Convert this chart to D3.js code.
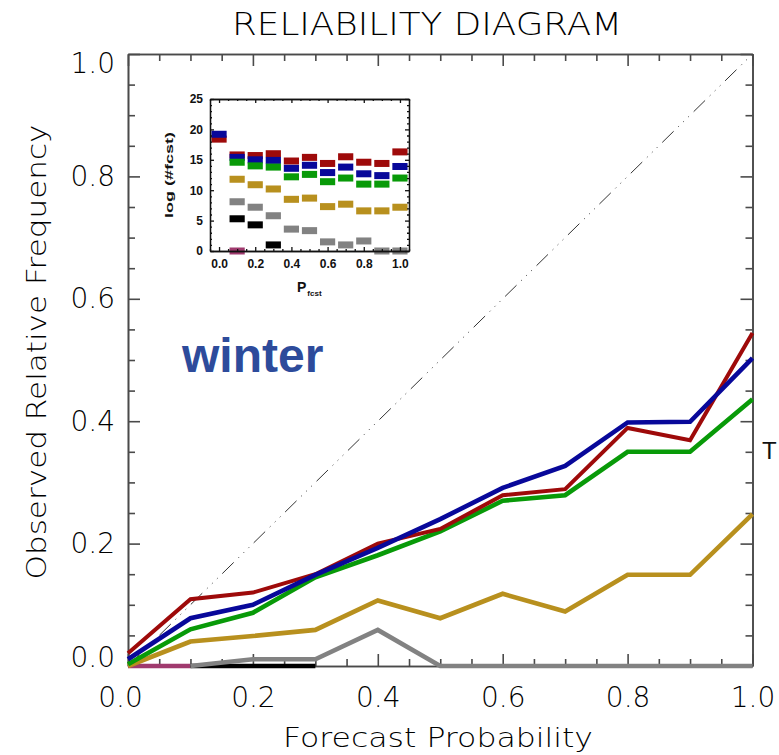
<!DOCTYPE html>
<html>
<head>
<meta charset="utf-8">
<script src="https://cdn.jsdelivr.net/npm/d3@7"></script>
<style>
  html, body { margin: 0; padding: 0; background: #fff; }
  svg { display: block; }
  .ax text, text.ax { font-family: "DejaVu Sans", sans-serif; font-weight: 300; fill: #000; }
  .inset text { font-family: "Liberation Sans", Arial, sans-serif; font-weight: bold; fill: #111; }
</style>
</head>
<body>
<script>
// Forecast probability bins
const probs = [0.0, 0.1, 0.2, 0.3, 0.4, 0.5, 0.6, 0.7, 0.8, 0.9, 1.0];

// Observed relative frequency per bin, one array per threshold (null = no forecasts)
const obsRed     = [0.021, 0.109, 0.120, 0.150, 0.200, 0.224, 0.279, 0.289, 0.389, 0.369, 0.544];
const obsBlue    = [0.011, 0.078, 0.100, 0.149, 0.193, 0.240, 0.291, 0.327, 0.398, 0.399, 0.503];
const obsGreen   = [0.003, 0.060, 0.087, 0.145, 0.181, 0.220, 0.270, 0.279, 0.350, 0.350, 0.436];
const obsGold    = [0.000, 0.040, 0.049, 0.059, 0.107, 0.078, 0.118, 0.089, 0.149, 0.149, 0.248];
const obsGray    = [null, 0.000, 0.011, 0.011, 0.059, 0.000, 0.000, 0.000, 0.000, 0.000, 0.000];
const obsBlack   = [null, 0.000, 0.000, 0.000, null, null, null, null, null, null, null];
const obsMagenta = [0.000, 0.000, null, null, null, null, null, null, null, null, null];

// log(#fcst) per bin for the inset histogram
const cntRed     = [18.4, 15.8, 15.7, 16.0, 14.8, 15.4, 14.4, 15.5, 14.6, 14.4, 16.3];
const cntBlue    = [19.2, 15.4, 15.0, 14.9, 13.6, 14.1, 12.9, 13.8, 12.7, 12.4, 13.9];
const cntGreen   = [null, 14.6, 14.0, 13.8, 12.2, 12.6, 11.4, 12.0, 11.0, 11.0, 12.0];
const cntGold    = [null, 11.8, 10.9, 10.2, 8.5, 8.7, 7.3, 7.7, 6.6, 6.6, 7.2];
const cntGray    = [null, 8.1, 7.2, 5.8, 3.6, 3.35, 1.5, 1.0, 1.65, 0.0, 0.0];
const cntBlack   = [null, 5.3, 4.3, 1.0, null, null, null, null, null, null, null];
const cntMagenta = [null, 0.0, null, null, null, null, null, null, null, null, null];

const colors = {
  red: "#9e0a0a", blue: "#08089a", green: "#089a08", gold: "#b8901e",
  gray: "#828282", black: "#000000", magenta: "#a03a6e"
};

// Drawing order: bottom first
const series = [
  { key: "magenta", obs: obsMagenta, cnt: cntMagenta },
  { key: "black",   obs: obsBlack,   cnt: cntBlack },
  { key: "gray",    obs: obsGray,    cnt: cntGray },
  { key: "gold",    obs: obsGold,    cnt: cntGold },
  { key: "green",   obs: obsGreen,   cnt: cntGreen },
  { key: "red",     obs: obsRed,     cnt: cntRed },
  { key: "blue",    obs: obsBlue,    cnt: cntBlue }
];
const insetOrder = ["gray", "black", "magenta", "gold", "red", "blue", "green"];

const majorTicks = [0, 0.2, 0.4, 0.6, 0.8, 1.0];
const minorTicks = d3.range(0, 1.0001, 0.05).map(v => +v.toFixed(2)).filter(v => !majorTicks.includes(v));

const W = 779, H = 755;
const svg = d3.select("body").append("svg").attr("width", W).attr("height", H);

const x = d3.scaleLinear().domain([0, 1]).range([128, 752.5]);
const y = d3.scaleLinear().domain([0, 1]).range([666, 54]);
const axisColor = "#4a4a4a";

// Title
svg.append("text").attr("class", "ax")
  .attr("x", 427).attr("y", 35)
  .attr("text-anchor", "middle")
  .attr("font-size", 32)
  .attr("textLength", 390).attr("lengthAdjust", "spacingAndGlyphs")
  .text("RELIABILITY DIAGRAM");

// Perfect-reliability diagonal
svg.append("line")
  .attr("x1", x(0)).attr("y1", y(0)).attr("x2", x(1)).attr("y2", y(1))
  .attr("stroke", "#333").attr("stroke-width", 1)
  .attr("stroke-dasharray", "16,6.5,1,6,1,6,1,6.5");

// Axes
function styleAxis(g) {
  g.selectAll("path,line").attr("stroke", axisColor).attr("stroke-width", 1.6);
  g.selectAll("text").attr("font-size", 28).attr("fill", "#000");
}
const gB = svg.append("g").attr("class", "ax").attr("transform", `translate(0,${y(0)})`)
  .call(d3.axisBottom(x).tickValues(majorTicks).tickSizeInner(-12).tickSizeOuter(0).tickPadding(21).tickFormat(d3.format(".1f")))
  .call(styleAxis);
svg.append("g").attr("transform", `translate(0,${y(0)})`)
  .call(d3.axisBottom(x).tickValues(minorTicks).tickSizeInner(-7).tickSizeOuter(0).tickFormat(""))
  .call(styleAxis);
svg.append("g").attr("transform", `translate(0,${y(1)})`)
  .call(d3.axisTop(x).tickValues(majorTicks).tickSizeInner(-12).tickSizeOuter(0).tickFormat(""))
  .call(styleAxis);
svg.append("g").attr("transform", `translate(0,${y(1)})`)
  .call(d3.axisTop(x).tickValues(minorTicks).tickSizeInner(-7).tickSizeOuter(0).tickFormat(""))
  .call(styleAxis);
const gL = svg.append("g").attr("class", "ax").attr("transform", `translate(${x(0)},0)`)
  .call(d3.axisLeft(y).tickValues(majorTicks).tickSizeInner(-12).tickSizeOuter(0).tickPadding(13).tickFormat(d3.format(".1f")))
  .call(styleAxis);
svg.append("g").attr("transform", `translate(${x(0)},0)`)
  .call(d3.axisLeft(y).tickValues(minorTicks).tickSizeInner(-7).tickSizeOuter(0).tickFormat(""))
  .call(styleAxis);
svg.append("g").attr("transform", `translate(${x(1)},0)`)
  .call(d3.axisRight(y).tickValues(majorTicks).tickSizeInner(-12).tickSizeOuter(0).tickFormat(""))
  .call(styleAxis);
svg.append("g").attr("transform", `translate(${x(1)},0)`)
  .call(d3.axisRight(y).tickValues(minorTicks).tickSizeInner(-7).tickSizeOuter(0).tickFormat(""))
  .call(styleAxis);

// End labels sit slightly inside the frame
gL.selectAll(".tick text").filter(d => d === 1).attr("dy", "0.65em");
gL.selectAll(".tick text").filter(d => d === 0).attr("dy", "0.0em");
gB.selectAll(".tick text").filter(d => d === 0).attr("dx", "-8");

// Axis titles
svg.append("text").attr("class", "ax")
  .attr("x", 438).attr("y", 747).attr("text-anchor", "middle")
  .attr("font-size", 27).attr("textLength", 310).attr("lengthAdjust", "spacingAndGlyphs")
  .text("Forecast Probability");
svg.append("text").attr("class", "ax")
  .attr("transform", "translate(46,352) rotate(-90)").attr("text-anchor", "middle")
  .attr("font-size", 27).attr("textLength", 455).attr("lengthAdjust", "spacingAndGlyphs")
  .text("Observed Relative Frequency");

// Reliability curves
const line = d3.line()
  .defined(d => d[1] !== null)
  .x(d => x(d[0])).y(d => y(d[1]));
series.forEach(s => {
  const pts = probs.map((p, i) => [p, s.obs[i]]);
  svg.append("path")
    .attr("d", line(pts))
    .attr("fill", "none")
    .attr("stroke", colors[s.key])
    .attr("stroke-width", s.key === "red" ? 4 : 4.6)
    .attr("stroke-linejoin", "miter");
});

// Season label
svg.append("text")
  .attr("x", 182).attr("y", 372)
  .attr("font-family", "Liberation Sans, Arial, sans-serif").attr("font-weight", "bold")
  .attr("font-size", 48).attr("fill", "#2d4b9b")
  .text("winter");

svg.append("text")
  .attr("x", 762).attr("y", 459)
  .attr("font-family", "Liberation Sans, Arial, sans-serif")
  .attr("font-size", 24).attr("fill", "#111")
  .text("T");

// Inset: number of forecasts per bin
const ix = d3.scaleLinear().domain([-0.05, 1.05]).range([210, 409]);
const iy = d3.scaleLinear().domain([0, 25]).range([251, 99]);
const inset = svg.append("g").attr("class", "inset");

const barW = ix(0.042) - ix(0);
insetOrder.forEach(k => {
  const s = series.find(t => t.key === k);
  inset.append("g").selectAll("rect")
    .data(probs.map((p, i) => [p, s.cnt[i]]).filter(d => d[1] !== null))
    .join("rect")
    .attr("x", d => ix(d[0]) - barW)
    .attr("width", 2 * barW)
    .attr("y", d => iy(d[1]) - 3.5)
    .attr("height", 7)
    .attr("fill", colors[k]);
});

function styleInset(g) {
  g.selectAll("path,line").attr("stroke", "#111").attr("stroke-width", 1.3);
  g.selectAll("text").attr("font-size", 12).attr("font-weight", "bold").attr("fill", "#111");
}
const iMajX = [0, 0.2, 0.4, 0.6, 0.8, 1.0];
const iMinX = d3.range(-0.05, 1.051, 0.05).map(v => +v.toFixed(2)).filter(v => !iMajX.includes(v));
const iMajY = [0, 5, 10, 15, 20, 25];
const iMinY = d3.range(0, 25.01, 1).filter(v => !iMajY.includes(v));

inset.append("g").attr("transform", `translate(0,${iy(0)})`)
  .call(d3.axisBottom(ix).tickValues(iMajX).tickSizeInner(-4).tickSizeOuter(0).tickPadding(8).tickFormat(d3.format(".1f")))
  .call(styleInset);
inset.append("g").attr("transform", `translate(0,${iy(0)})`)
  .call(d3.axisBottom(ix).tickValues(iMinX).tickSizeInner(-2).tickSizeOuter(0).tickFormat(""))
  .call(styleInset);
inset.append("g").attr("transform", `translate(0,${iy(25)})`)
  .call(d3.axisTop(ix).tickValues(iMajX).tickSizeInner(-4).tickSizeOuter(0).tickFormat(""))
  .call(styleInset);
inset.append("g").attr("transform", `translate(0,${iy(25)})`)
  .call(d3.axisTop(ix).tickValues(iMinX).tickSizeInner(-2).tickSizeOuter(0).tickFormat(""))
  .call(styleInset);
inset.append("g").attr("transform", `translate(${ix(-0.05)},0)`)
  .call(d3.axisLeft(iy).tickValues(iMajY).tickSizeInner(-4).tickSizeOuter(0).tickPadding(7))
  .call(styleInset);
inset.append("g").attr("transform", `translate(${ix(-0.05)},0)`)
  .call(d3.axisLeft(iy).tickValues(iMinY).tickSizeInner(-2).tickSizeOuter(0).tickFormat(""))
  .call(styleInset);
inset.append("g").attr("transform", `translate(${ix(1.05)},0)`)
  .call(d3.axisRight(iy).tickValues(iMajY).tickSizeInner(-4).tickSizeOuter(0).tickFormat(""))
  .call(styleInset);
inset.append("g").attr("transform", `translate(${ix(1.05)},0)`)
  .call(d3.axisRight(iy).tickValues(iMinY).tickSizeInner(-2).tickSizeOuter(0).tickFormat(""))
  .call(styleInset);

inset.append("text")
  .attr("transform", "translate(173,175) rotate(-90)").attr("text-anchor", "middle")
  .attr("font-size", 11).attr("textLength", 86).attr("lengthAdjust", "spacingAndGlyphs")
  .text("log (#fcst)");

const pLab = inset.append("text").attr("x", 297).attr("y", 292).attr("font-size", 14);
pLab.append("tspan").text("P");
pLab.append("tspan").attr("font-size", 8).attr("dy", 4).attr("dx", 1).text("fcst");
</script>
</body>
</html>
